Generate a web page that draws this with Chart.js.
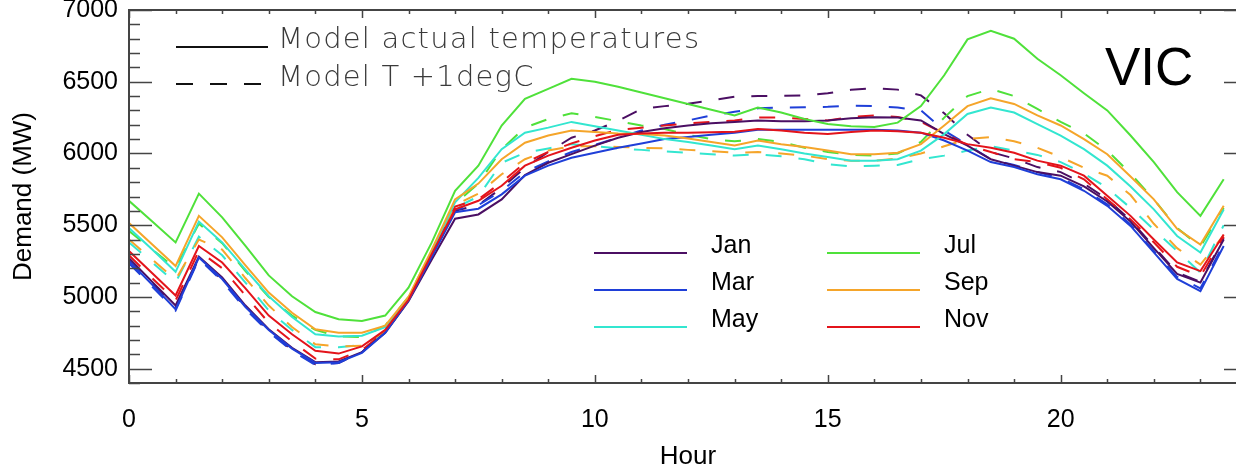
<!DOCTYPE html>
<html>
<head>
<meta charset="utf-8">
<script src="https://cdn.jsdelivr.net/npm/chart.js@4"></script>
<style>
  html, body { margin: 0; padding: 0; background: #fff; overflow: hidden; }
  #wrap { width: 1262px; height: 472px; }
</style>
</head>
<body>
<div id="wrap"><canvas id="demand-chart" width="1262" height="472"></canvas></div>
<script>
// ── VIC half-hourly demand (MW) ──
const hours = [0,0.5,1,1.5,2,2.5,3,3.5,4,4.5,5,5.5,6,6.5,7,7.5,8,8.5,9,9.5,10,10.5,11,11.5,
  12,12.5,13,13.5,14,14.5,15,15.5,16,16.5,17,17.5,18,18.5,19,19.5,20,20.5,21,21.5,22,22.5,23,23.5];

const months = ['Jan', 'Mar', 'May', 'Jul', 'Sep', 'Nov'];
const monthColors = ['#4b0f63', '#1f3fd8', '#33e6d0', '#4fe13a', '#f5a52a', '#e3141b'];

const janActual = [5270,5105,4940,5280,5135,4940,4775,4645,4545,4550,4615,4750,
  4970,5260,5545,5575,5680,5850,5935,5995,6055,6110,6150,6175,
  6195,6210,6220,6230,6225,6225,6230,6245,6253,6250,6230,6135,
  6055,5960,5915,5870,5845,5770,5665,5525,5340,5160,5100,5400];
const janPlus1 = [5255,5090,4925,5270,5120,4925,4760,4630,4530,4540,4615,4760,
  4990,5290,5600,5640,5760,5900,6010,6110,6160,6228,6310,6330,
  6347,6370,6395,6400,6402,6405,6420,6444,6455,6445,6405,6280,
  6130,6010,5965,5905,5870,5790,5680,5535,5350,5170,5105,5410];

const marActual = [5250,5085,4915,5275,5125,4930,4770,4640,4540,4545,4610,4750,
  4975,5280,5590,5615,5715,5845,5915,5970,6005,6040,6070,6100,
  6115,6130,6145,6165,6165,6165,6165,6165,6165,6160,6145,6090,
  6020,5940,5905,5855,5820,5740,5635,5495,5310,5125,5040,5355];
const marPlus1 = [5235,5070,4905,5265,5110,4915,4755,4625,4525,4540,4615,4760,
  4990,5300,5610,5640,5740,5870,5945,6010,6060,6110,6160,6200,
  6230,6265,6290,6315,6320,6322,6325,6333,6330,6320,6300,6160,
  6060,5960,5920,5870,5830,5750,5645,5505,5320,5140,5060,5370];

const mayActual = [5480,5330,5175,5525,5380,5190,5005,4860,4740,4725,4730,4790,
  4990,5320,5660,5830,6030,6145,6180,6220,6190,6160,6130,6100,
  6080,6055,6030,6055,6030,6000,5975,5950,5950,5960,6020,6135,
  6275,6320,6285,6205,6125,6030,5915,5770,5610,5425,5310,5610];
const mayPlus1 = [5380,5240,5100,5420,5290,5100,4905,4770,4650,4650,4665,4750,
  4975,5300,5620,5700,5935,6005,6035,6065,6050,6035,6025,6015,
  6005,5995,5985,5995,5980,5960,5925,5910,5915,5920,5960,5985,
  6020,6050,6020,5990,5940,5860,5760,5620,5470,5320,5170,5500];

const julActual = [5670,5525,5380,5720,5555,5355,5150,5005,4895,4845,4832,4870,
  5065,5380,5740,5915,6195,6380,6450,6520,6500,6465,6425,6385,
  6345,6305,6265,6320,6285,6240,6205,6190,6185,6215,6330,6545,
  6795,6855,6800,6660,6545,6420,6300,6125,5940,5730,5565,5820];
const julPlus1 = [5460,5330,5200,5510,5375,5180,5000,4870,4770,4725,4720,4800,
  5000,5320,5650,5790,6030,6180,6240,6280,6255,6225,6195,6170,
  6130,6100,6085,6100,6080,6040,6010,5990,5985,6000,6080,6250,
  6400,6450,6400,6310,6220,6140,6020,5860,5680,5480,5350,5620];

const sepActual = [5515,5365,5215,5565,5415,5220,5030,4890,4775,4750,4750,4800,
  5000,5330,5680,5790,5960,6075,6125,6160,6150,6140,6135,6125,
  6105,6080,6055,6090,6065,6045,6020,5995,5995,6005,6065,6195,
  6330,6385,6345,6265,6195,6100,5995,5840,5680,5475,5365,5635];
const sepPlus1 = [5400,5260,5120,5400,5330,5130,4940,4790,4670,4655,4660,4760,
  4980,5310,5640,5720,5855,5960,6020,6050,6050,6045,6040,6035,
  6025,6015,6005,6010,6000,5985,5960,5950,5950,5965,6000,6050,
  6100,6115,6085,6040,5975,5900,5845,5710,5510,5340,5225,5430];

const novActual = [5320,5165,5010,5355,5240,5060,4870,4740,4625,4605,4655,4770,
  4980,5300,5610,5670,5775,5915,5985,6040,6090,6130,6140,6145,
  6145,6148,6152,6170,6160,6145,6135,6150,6160,6155,6145,6110,
  6065,6040,6005,5950,5915,5845,5705,5565,5400,5240,5180,5435];
const novPlus1 = [5290,5130,4975,5320,5200,5010,4820,4690,4570,4565,4630,4760,
  4985,5310,5630,5680,5800,5935,6010,6070,6120,6165,6180,6195,
  6210,6220,6230,6250,6250,6240,6230,6255,6265,6255,6220,6140,
  6060,6010,5960,5940,5900,5820,5680,5540,5380,5210,5145,5420];

const actualSeries = [janActual, marActual, mayActual, julActual, sepActual, novActual];
const plus1Series  = [janPlus1, marPlus1, mayPlus1, julPlus1, sepPlus1, novPlus1];

const xTicks = [0, 5, 10, 15, 20];
const yTicks = [4500, 5000, 5500, 6000, 6500, 7000];
const styleLabels = ['Model actual temperatures', 'Model T +1degC'];
const regionLabel = 'VIC';

const X_MIN = 0, X_MAX = 24, Y_MIN = 4400, Y_MAX = 7000;
const AXIS_COLOR = '#444';
const DASH = [16, 17];
const SANS = '"Liberation Sans", Arial, sans-serif';

// dashed first, solids on top; Chart.js paints index 0 last
const drawOrder = [];
plus1Series.forEach((vals, i) => drawOrder.push({ label: months[i] + ' +1degC', vals, color: monthColors[i], dash: DASH }));
actualSeries.forEach((vals, i) => drawOrder.push({ label: months[i], vals, color: monthColors[i], dash: [] }));

const datasets = drawOrder.reverse().map(s => ({
  label: s.label,
  data: hours.map((h, i) => ({ x: h, y: s.vals[i] })),
  borderColor: s.color,
  backgroundColor: s.color,
  borderWidth: 2,
  borderDash: s.dash,
  pointRadius: 0,
  tension: 0,
  fill: false,
}));

// frame with inward ticks on all four sides (IDL style)
const framePlugin = {
  id: 'frame',
  afterDatasetsDraw(chart) {
    const { ctx, chartArea: a, scales: { x, y } } = chart;
    ctx.save();
    ctx.strokeStyle = AXIS_COLOR;
    ctx.lineWidth = 2;
    ctx.strokeRect(a.left, a.top, a.right - a.left, a.bottom - a.top);
    ctx.lineWidth = 1.5;
    ctx.beginPath();
    for (let v = Y_MIN; v <= Y_MAX; v += 100) {
      const py = Math.round(y.getPixelForValue(v)) + 0.5;
      const len = v % 500 === 0 ? 23 : 11;
      ctx.moveTo(a.left, py); ctx.lineTo(a.left + len, py);
      ctx.moveTo(a.right, py); ctx.lineTo(a.right - len, py);
    }
    for (let h = X_MIN; h <= X_MAX; h += 1) {
      const px = Math.round(x.getPixelForValue(h)) + 0.5;
      const len = h % 5 === 0 ? 8 : 4;
      ctx.moveTo(px, a.bottom); ctx.lineTo(px, a.bottom - len);
      ctx.moveTo(px, a.top); ctx.lineTo(px, a.top + len);
    }
    ctx.stroke();
    ctx.restore();
  },
  afterDraw(chart) {
    const { ctx } = chart;
    ctx.save();
    // line-style key, top left
    ctx.strokeStyle = '#111';
    ctx.lineWidth = 2;
    ctx.beginPath(); ctx.moveTo(176, 47); ctx.lineTo(268, 47); ctx.stroke();
    ctx.setLineDash([17, 17]);
    ctx.beginPath(); ctx.moveTo(176, 84); ctx.lineTo(268, 84); ctx.stroke();
    ctx.setLineDash([]);
    ctx.fillStyle = '#3a3a3a';
    ctx.font = '200 29px "DejaVu Sans"';
    ctx.letterSpacing = '1.2px';
    ctx.textBaseline = 'alphabetic';
    ctx.fillText(styleLabels[0], 278, 48);
    ctx.fillText(styleLabels[1], 278, 86);
    ctx.letterSpacing = '0px';

    // month key, two columns
    ctx.font = '25px ' + SANS;
    ctx.fillStyle = '#000';
    months.forEach((m, i) => {
      const col = Math.floor(i / 3), row = i % 3;
      const x0 = col === 0 ? 594 : 827;
      const yy = 253 + row * 37;
      ctx.strokeStyle = monthColors[i];
      ctx.lineWidth = 2;
      ctx.beginPath(); ctx.moveTo(x0, yy); ctx.lineTo(x0 + 93, yy); ctx.stroke();
      ctx.fillText(m, x0 + 117, yy);
    });

    ctx.font = '53px ' + SANS;
    ctx.fillText(regionLabel, 1105, 85);
    ctx.restore();
  }
};

const tickFont = { family: SANS, size: 25 };

new Chart(document.getElementById('demand-chart'), {
  type: 'line',
  data: { datasets },
  options: {
    responsive: false,
    animation: false,
    layout: { padding: { left: 0, right: 15, top: 10, bottom: 0 } },
    plugins: { legend: { display: false }, tooltip: { enabled: false } },
    scales: {
      x: {
        type: 'linear', min: X_MIN, max: X_MAX,
        grid: { display: false, drawTicks: false },
        border: { display: false },
        ticks: { color: '#000', font: tickFont, padding: 22, maxRotation: 0, callback: v => String(v) },
        afterBuildTicks: s => { s.ticks = xTicks.map(v => ({ value: v })); },
        afterFit: s => { s.height = 89; s.paddingLeft = 0; s.paddingRight = 0; },
        title: { display: true, text: 'Hour', color: '#000', font: { family: SANS, size: 26 }, padding: { top: 0, bottom: 0 } },
      },
      y: {
        type: 'linear', min: Y_MIN, max: Y_MAX,
        grid: { display: false, drawTicks: false },
        border: { display: false },
        ticks: { color: '#000', font: tickFont, padding: 11, callback: v => String(v) },
        afterBuildTicks: s => { s.ticks = yTicks.map(v => ({ value: v })); },
        afterFit: s => { s.width = 129; s.paddingTop = 0; s.paddingBottom = 0; },
        title: { display: true, text: 'Demand (MW)', color: '#000', font: { family: SANS, size: 26 }, padding: { top: 8, bottom: 0 } },
      }
    }
  },
  plugins: [framePlugin]
});
</script>
</body>
</html>
